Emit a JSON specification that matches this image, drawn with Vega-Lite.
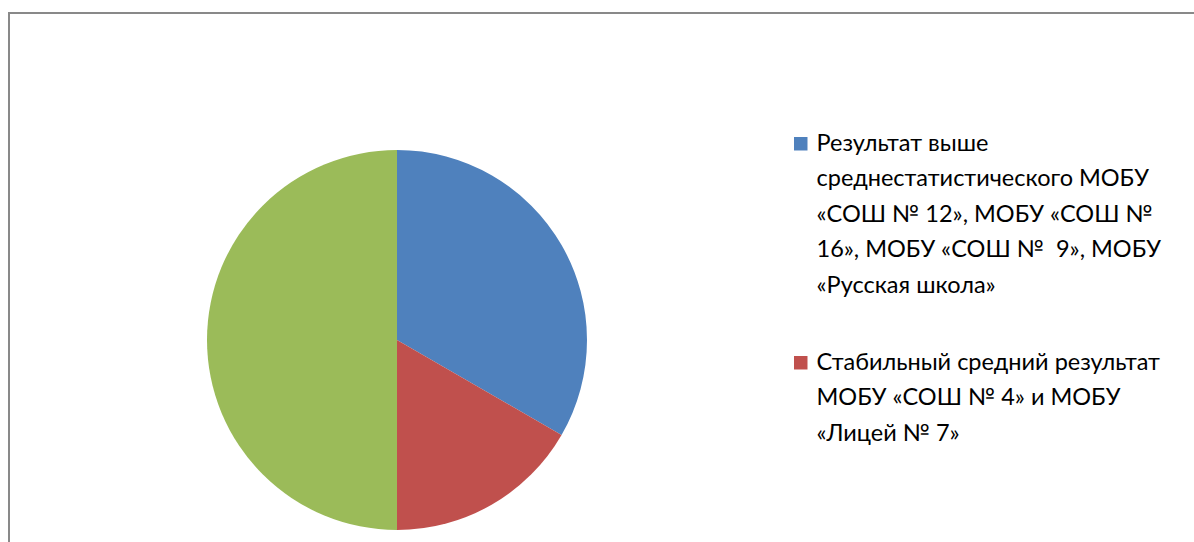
{
  "$schema": "https://vega.github.io/schema/vega-lite/v6.json",
  "autosize": {"type": "none"},
  "padding": {"left": 9, "top": 13, "right": 0, "bottom": 0},
  "width": 1190,
  "height": 540,
  "background": "white",
  "view": {"stroke": "#898989", "strokeWidth": 2},
  "config": {"view": {"stroke": "#898989", "strokeWidth": 2}, "style": {"guide-label": {"lineHeight": 35.5}}},
  "data": {"values": [
    {"category": "Результат выше|среднестатистического МОБУ|«СОШ № 12», МОБУ «СОШ №|16», МОБУ «СОШ № \u00a09», МОБУ|«Русская школа»", "rank": 1, "value": 4},
    {"category": "Стабильный средний результат|МОБУ «СОШ № 4» и МОБУ|«Лицей № 7»", "rank": 2, "value": 2},
    {"category": "Результат ниже среднестатистического", "rank": 3, "value": 6}
  ]},
  "mark": {"type": "arc", "outerRadius": 190, "x": 388, "y": 327, "stroke": null},
  "encoding": {
    "theta": {"field": "value", "type": "quantitative", "stack": true},
    "order": {"field": "rank", "type": "quantitative"},
    "color": {
      "field": "category",
      "type": "nominal",
      "scale": {
        "domain": [
          "Результат выше|среднестатистического МОБУ|«СОШ № 12», МОБУ «СОШ №|16», МОБУ «СОШ № \u00a09», МОБУ|«Русская школа»",
          "Стабильный средний результат|МОБУ «СОШ № 4» и МОБУ|«Лицей № 7»",
          "Результат ниже среднестатистического"
        ],
        "range": ["#4F81BD", "#C0504D", "#9BBB59"]
      },
      "legend": {
        "orient": "none",
        "legendX": 780,
        "legendY": 119,
        "title": null,
        "values": [
          "Результат выше|среднестатистического МОБУ|«СОШ № 12», МОБУ «СОШ №|16», МОБУ «СОШ № \u00a09», МОБУ|«Русская школа»",
          "Стабильный средний результат|МОБУ «СОШ № 4» и МОБУ|«Лицей № 7»"
        ],
        "symbolType": "square",
        "symbolSize": 182,
        "symbolStrokeWidth": 0,
        "symbolOpacity": 1,
        "labelExpr": "split(datum.label, '|')",
        "labelFont": "Lato",
        "labelFontSize": 23.5,
        "labelColor": "#000000",
        "labelLimit": 500,
        "labelOffset": 4,
        "rowPadding": 52,
        "encode": {
          "labels": {"update": {"baseline": {"value": "top"}}}
        }
      }
    }
  }
}
